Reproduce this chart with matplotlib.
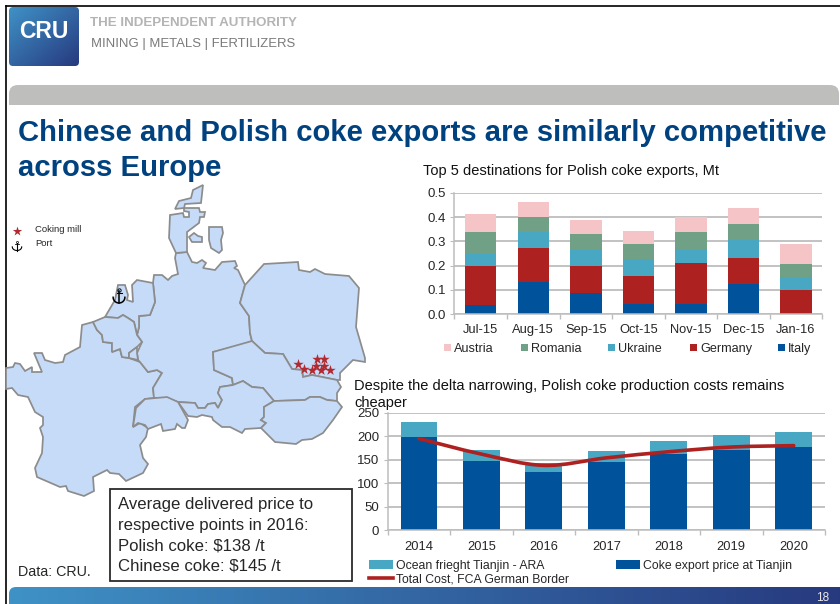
import numpy as np
import matplotlib
matplotlib.use("Agg")
import matplotlib.pyplot as plt
from matplotlib.patches import Polygon, FancyBboxPatch, PathPatch, Rectangle
from matplotlib.path import Path
from matplotlib.lines import Line2D

plt.rcParams['font.family'] = ['Liberation Sans', 'DejaVu Sans']

months = ['Jul-15', 'Aug-15', 'Sep-15', 'Oct-15', 'Nov-15', 'Dec-15', 'Jan-16']
italy = [0.040, 0.133, 0.086, 0.042, 0.043, 0.126, 0.0]
germany = [0.158, 0.139, 0.112, 0.116, 0.167, 0.107, 0.098]
ukraine = [0.055, 0.065, 0.070, 0.069, 0.060, 0.073, 0.054]
romania = [0.087, 0.063, 0.064, 0.063, 0.067, 0.067, 0.056]
austria = [0.073, 0.062, 0.056, 0.052, 0.063, 0.064, 0.083]
destinations = ['Italy', 'Germany', 'Ukraine', 'Romania', 'Austria']

years = ['2014', '2015', '2016', '2017', '2018', '2019', '2020']
export_price = [198, 147, 123, 146, 162, 171, 177]
ocean_freight = [32, 24, 20, 23, 27, 31, 33]
total_cost = [195, 162, 138, 154, 167, 177, 180]

# country outlines in pixel coordinates
france = [(93, 322), (82, 325), (80, 347), (65, 355), (63, 362), (55, 363), (45, 360), (42, 353), (34, 353),
          (42, 372), (32, 372), (32, 367), (25, 371), (20, 364), (15, 363), (13, 367), (6, 368), (6, 389),
          (12, 388), (18, 395), (28, 397), (35, 412), (43, 417), (43, 425), (40, 428), (43, 437), (42, 453),
          (35, 468), (37, 477), (60, 487), (66, 486), (68, 491), (84, 496), (94, 491), (93, 477), (107, 470),
          (110, 473), (119, 474), (126, 481), (143, 473), (148, 464), (143, 458), (140, 445), (146, 437),
          (148, 428), (140, 423), (133, 427), (135, 407), (145, 399), (154, 398), (153, 388), (162, 373),
          (157, 370), (148, 372), (140, 362), (129, 358), (122, 357), (120, 349), (112, 352), (112, 343),
          (103, 342), (102, 335), (97, 330)]
belgium = [(93, 322), (105, 317), (118, 318), (123, 315), (128, 318), (134, 322), (137, 335), (142, 342), (137, 347),
           (129, 353), (129, 358), (122, 357), (120, 349), (112, 352), (112, 343), (103, 342), (102, 335), (97, 330)]
luxembourg = [(137, 347), (137, 353), (138, 360), (129, 358), (129, 353)]
netherlands = [(105, 317), (115, 300), (118, 285), (125, 285), (128, 295), (127, 300), (133, 302), (132, 285),
               (137, 280), (153, 283), (155, 302), (150, 315), (139, 316), (139, 327), (137, 335), (134, 322),
               (128, 318), (123, 315), (118, 318)]
germany_map = [(176, 253), (187, 252), (192, 262), (197, 263), (202, 260), (206, 263), (203, 268), (215, 270),
               (222, 262), (235, 261), (237, 266), (234, 268), (238, 270), (245, 285), (240, 303), (249, 316),
               (250, 333), (252, 341), (242, 345), (213, 352), (214, 370), (232, 378), (233, 385), (220, 387),
               (218, 393), (222, 400), (218, 408), (215, 403), (208, 404), (205, 408), (198, 408), (195, 403),
               (178, 402), (167, 398), (154, 398), (153, 388), (162, 373), (157, 370), (148, 372), (140, 362),
               (138, 360), (137, 353), (142, 342), (137, 335), (139, 327), (139, 316), (150, 315), (155, 302),
               (153, 283), (154, 275), (162, 275), (168, 280), (172, 276), (178, 274), (175, 258)]
jutland = [(176, 253), (169, 238), (170, 215), (183, 213), (184, 217), (189, 217), (189, 212), (184, 211),
           (184, 208), (199, 208), (200, 212), (205, 212), (204, 217), (200, 217), (199, 223), (187, 232), (187, 252)]
vendsyssel = [(203, 185), (201, 203), (185, 204), (184, 208), (175, 209), (179, 201), (191, 198), (193, 190)]
funen = [(189, 237), (194, 233), (198, 236), (202, 237), (202, 242), (192, 242)]
zealand = [(209, 227), (222, 227), (223, 233), (221, 240), (222, 250), (219, 253), (211, 248), (209, 240)]
poland = [(245, 285), (264, 264), (298, 262), (299, 270), (310, 272), (315, 269), (325, 274), (349, 276), (359, 288),
          (356, 327), (365, 358), (365, 362), (353, 360), (340, 373), (340, 380), (337, 380), (312, 375), (303, 377),
          (302, 370), (292, 369), (283, 354), (265, 353), (252, 341), (250, 333), (249, 316), (240, 303)]
czechia = [(213, 352), (252, 341), (265, 353), (283, 354), (292, 369), (302, 370), (303, 377), (312, 375), (337, 380),
           (341, 387), (337, 393), (337, 401), (327, 400), (320, 397), (310, 397), (305, 400), (274, 401), (263, 388),
           (252, 387), (243, 381), (233, 385), (232, 378), (214, 370)]
austria_map = [(178, 402), (195, 403), (198, 408), (205, 408), (208, 404), (215, 403), (218, 408), (222, 400), (218, 393),
               (220, 387), (233, 385), (243, 381), (252, 387), (263, 388), (274, 401), (264, 407), (264, 417), (261, 420),
               (266, 423), (261, 428), (245, 429), (242, 433), (230, 427), (222, 427), (213, 420), (212, 417), (202, 415),
               (197, 417), (188, 416)]
hungary = [(274, 401), (305, 400), (310, 397), (320, 397), (327, 400), (337, 401), (342, 407), (333, 420), (323, 433),
           (312, 439), (302, 440), (296, 444), (275, 442), (261, 428), (266, 423), (261, 420), (264, 417), (264, 407)]
switzerland = [(133, 427), (136, 408), (145, 399), (167, 397), (178, 402), (188, 420), (185, 428), (182, 428), (177, 424),
               (175, 429), (163, 431), (161, 424), (148, 429), (145, 425), (138, 423)]
countries = [france, germany_map, netherlands, belgium, luxembourg, jutland, vendsyssel, funen, zealand,
             poland, czechia, austria_map, hungary, switzerland]

mill_x = [298, 304, 312, 321, 330, 316, 324, 317, 324]
mill_y = [364, 369, 370, 370, 370, 366, 366, 359, 359]

STACK_COLORS = ['#00529B', '#AE2121', '#48A8C4', '#70A085', '#F4C4C6']
GRID = '#BDBDBD'
TEXT = '#262626'

W, H = 840, 604
fig = plt.figure(figsize=(W / 100, H / 100), dpi=100, facecolor='white')
bg = fig.add_axes([0, 0, 1, 1], zorder=0)
bg.set_xlim(0, W)
bg.set_ylim(H, 0)
bg.axis('off')


def add_gradient(ax, x0, x1, y0, y1, c0, c1, clip, diag=0.0):
    # left to right blend, optionally leaning with y, clipped to a patch
    xx, yy = np.meshgrid(np.linspace(0, 1, 200), np.linspace(0, 1, 60))
    t = np.clip((xx + diag * yy) / (1 + diag), 0, 1)[..., None]
    rgb = (1 - t) * np.array(matplotlib.colors.to_rgb(c0)) + t * np.array(matplotlib.colors.to_rgb(c1))
    im = ax.imshow(rgb, extent=(x0, x1, y1, y0), aspect='auto', zorder=1)
    im.set_clip_path(clip)
    ax.set_xlim(0, W)
    ax.set_ylim(H, 0)


def draw_anchor(ax, cx, top, w, h, lw):
    # ring, shank and curved arms
    ax.plot([cx], [top + 0.1 * h], marker='o', ms=h * 0.16, mfc='none', mec='black', mew=lw * 0.6, zorder=4)
    ax.plot([cx, cx], [top + 0.2 * h, top + h], color='black', lw=lw, zorder=4)
    ax.plot([cx - 0.2 * w, cx + 0.2 * w], [top + 0.32 * h, top + 0.32 * h], color='black', lw=lw * 0.7, zorder=4)
    t = np.linspace(np.pi, 0, 20)
    ax.plot(cx + 0.47 * w * np.cos(t), top + 0.62 * h + 0.38 * h * np.sin(t), color='black', lw=lw, zorder=4)


# page frame
bg.add_line(Line2D([6, 6], [H, 6], color='black', lw=1.2))
bg.add_line(Line2D([6, W], [6, 6], color='black', lw=1.2))

# logo tile
logo = FancyBboxPatch((12, 10), 64, 53, boxstyle='round,pad=3,rounding_size=4', fc='none', ec='none')
bg.add_patch(logo)
add_gradient(bg, 9, 79, 7, 66, '#3F92C6', '#27397F', logo, diag=1.0)
bg.text(44, 32, 'CRU', color='white', fontsize=16.5, fontweight='bold', ha='center', va='center', zorder=3)
bg.text(90, 23.5, 'THE INDEPENDENT AUTHORITY', color='#B4B4B4', fontsize=9.6, fontweight='bold', va='center')
bg.text(91, 43.5, 'MINING | METALS | FERTILIZERS', color='#7A7A7A', fontsize=9.45, va='center')

# grey band under the header
band = FancyBboxPatch((18, 94), 812, 20, boxstyle='round,pad=9,rounding_size=9', fc='#BEBEBD', ec='none')
bg.add_patch(band)
bg.add_patch(Rectangle((0, 104.5), W, 20, fc='white', ec='none', zorder=1.5))

bg.text(18, 141, 'Chinese and Polish coke exports are similarly competitive', color='#00417F',
        fontsize=21.1, fontweight='bold', va='baseline', zorder=3)
bg.text(18, 176, 'across Europe', color='#00417F', fontsize=21.1, fontweight='bold', va='baseline', zorder=3)

# map
for outline in countries:
    bg.add_patch(Polygon(outline, closed=True, fc='#C6DBF8', ec='#8C8C8C', lw=1.25, zorder=2))
bg.scatter(mill_x, mill_y, marker='*', s=62, color='#B02A30', linewidths=0, zorder=4)
bg.scatter([16.5], [231], marker='*', s=50, color='#B02A30', linewidths=0, zorder=4)
bg.text(35, 230, 'Coking mill', fontsize=6.8, color=TEXT, va='center', zorder=4)
bg.text(35, 243, 'Port', fontsize=6.8, color=TEXT, va='center', zorder=4)
draw_anchor(bg, 17, 241, 10, 9.5, 0.8)
draw_anchor(bg, 119, 288, 12.5, 15, 1.1)
bg.set_xlim(0, W)
bg.set_ylim(H, 0)

# price box and source
bg.add_patch(Rectangle((109.5, 488.5), 242.5, 92, fc='white', ec='#2B2B2B', lw=1.3, zorder=5))
box_lines = ['Average delivered price to', 'respective points in 2016:', 'Polish coke: $138 /t', 'Chinese coke: $145 /t']
for i, line in enumerate(box_lines):
    bg.text(118.5, 505 + i * 20.3, line, fontsize=12.1, color=TEXT, va='center', zorder=6)
bg.text(17.5, 572, 'Data: CRU.', fontsize=10.3, color=TEXT, va='center', zorder=6)

# footer
foot = FancyBboxPatch((16, 594), 840, 30, boxstyle='round,pad=7,rounding_size=7', fc='none', ec='none')
bg.add_patch(foot)
add_gradient(bg, 9, W, 587, H, '#3F92C6', '#27397F', foot)
bg.text(823, 598, '18', color='#E8E8E8', fontsize=8.5, ha='center', va='center', zorder=3)


def px_axes(left, right, top, bottom, xpad):
    ax = fig.add_axes([left / W, 1 - bottom / H, (right - left) / W, (bottom - top) / H], zorder=2)
    ax.patch.set_alpha(0)
    for side in ('top', 'right'):
        ax.spines[side].set_visible(False)
    for side in ('left', 'bottom'):
        ax.spines[side].set_color(GRID)
        ax.spines[side].set_linewidth(1.1)
    ax.set_axisbelow(True)
    ax.grid(axis='y', color=GRID, lw=1.3)
    ax.tick_params(axis='y', color=GRID, length=3, labelsize=9.5, labelcolor=TEXT, pad=3)
    ax.tick_params(axis='x', which='major', length=0, labelsize=9.3, labelcolor=TEXT, pad=xpad)
    ax.tick_params(axis='x', which='minor', color=GRID, length=3.5, width=1)
    ax.set_xlim(-0.5, 6.5)
    ax.set_xticks(np.arange(-0.5, 7), minor=True)
    return ax


# top chart: stacked exports by destination
ax1 = px_axes(454.5, 822, 192.7, 314.3, 7)
x = np.arange(len(months))
base = np.zeros(len(months))
for vals, color, name in zip([italy, germany, ukraine, romania, austria], STACK_COLORS, destinations):
    ax1.bar(x, vals, 0.6, bottom=base, color=color, label=name)
    base = base + np.array(vals)
ax1.set_ylim(0, 0.5)
ax1.set_yticks([0, 0.1, 0.2, 0.3, 0.4, 0.5])
ax1.set_yticklabels(['0.0', '0.1', '0.2', '0.3', '0.4', '0.5'])
ax1.set_xticks(x)
ax1.set_xticklabels(months)
bg.text(423, 171, 'Top 5 destinations for Polish coke exports, Mt', fontsize=10.5, color='#111111', va='center')

# key set by hand, a legend box drifts the baselines of labels with descenders
key_x = [444, 521, 608, 690, 778]
for kx, name, color in zip(key_x, destinations[::-1], STACK_COLORS[::-1]):
    bg.add_patch(Rectangle((kx, 344), 7, 7, fc=color, ec='none', zorder=3))
    bg.text(kx + 10, 352, name, fontsize=9.1, color=TEXT, va='baseline', zorder=3)

# bottom chart: price build-up with the total cost curve
ax2 = px_axes(387.7, 825, 412.7, 530.3, 8)
x2 = np.arange(len(years))
b_export = ax2.bar(x2, export_price, 0.59, color='#00529B')
b_freight = ax2.bar(x2, ocean_freight, 0.59, bottom=export_price, color='#48A8C4')
ax2.set_ylim(0, 250)
ax2.set_yticks(range(0, 251, 50))
ax2.set_xticks(x2)
ax2.set_xticklabels(years)

# total cost as a Catmull-Rom curve through the yearly values
pts = np.column_stack([x2, total_cost]).astype(float)
ext = np.vstack([pts[0], pts, pts[-1]])
verts = [tuple(pts[0])]
codes = [Path.MOVETO]
for i in range(1, len(ext) - 2):
    verts += [tuple(ext[i] + (ext[i + 1] - ext[i - 1]) / 6), tuple(ext[i + 1] - (ext[i + 2] - ext[i]) / 6), tuple(ext[i + 1])]
    codes += [Path.CURVE4] * 3
ax2.add_patch(PathPatch(Path(verts, codes), fc='none', ec='#AE2121', lw=2.6, capstyle='round', zorder=4))
line_handle = Line2D([], [], color='#AE2121', lw=2.6)

bg.text(354, 386, 'Despite the delta narrowing, Polish coke production costs remains', fontsize=10.5, color='#111111',
        va='center', zorder=6)
bg.text(354, 402.5, 'cheaper', fontsize=10.5, color='#111111', va='center', zorder=6)
fig.legend([b_freight, line_handle, b_export], ['Ocean frieght Tianjin - ARA', 'Total Cost, FCA German Border',
                                                'Coke export price at Tianjin'],
           loc='upper left', bbox_to_anchor=(369 / W, 1 - 559.5 / H), ncol=2, frameon=False, fontsize=8.8,
           labelcolor=TEXT, handlelength=1.95, handleheight=0.7, handletextpad=0.22, columnspacing=3.9,
           labelspacing=0.15, borderpad=0, borderaxespad=0)

fig.savefig('out.png', dpi=100)
